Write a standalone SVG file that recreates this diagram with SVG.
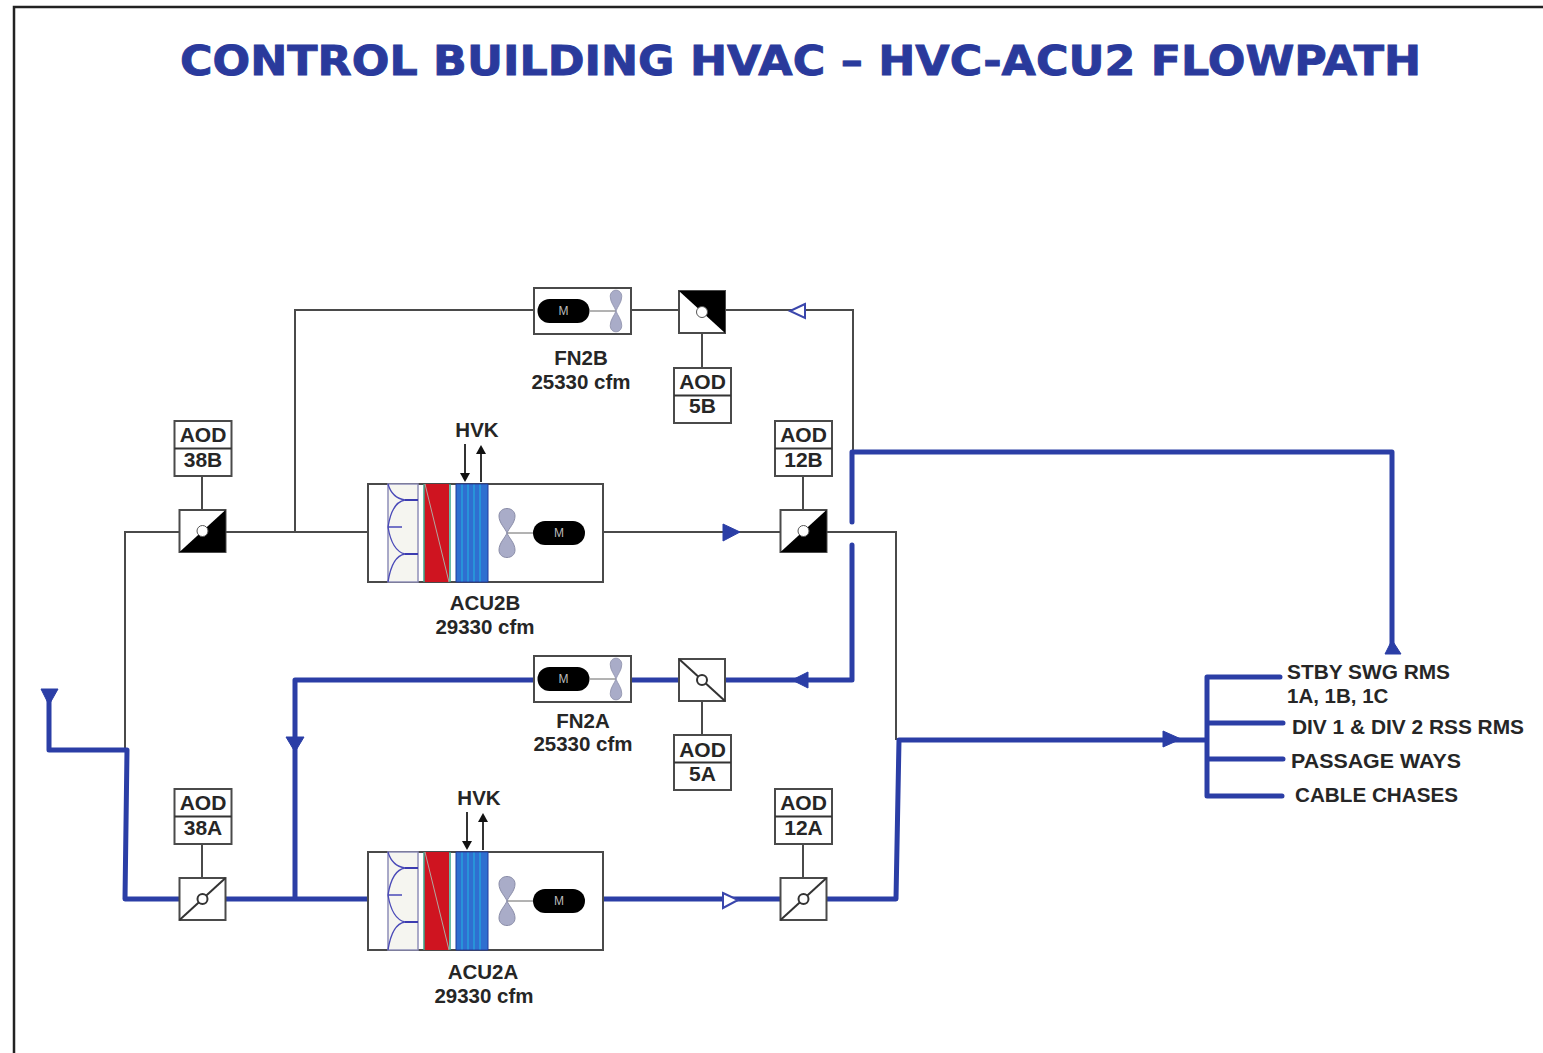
<svg xmlns="http://www.w3.org/2000/svg" width="1543" height="1053" viewBox="0 0 1543 1053">
<style>
.t{font-family:"Liberation Sans",Arial,sans-serif;font-weight:bold;font-size:20.5px;fill:#262626;text-anchor:middle}
.a{font-family:"Liberation Sans",Arial,sans-serif;font-weight:bold;font-size:21px;fill:#262626;text-anchor:middle}
.l{font-family:"Liberation Sans",Arial,sans-serif;font-weight:bold;font-size:20.500px;fill:#262626}
.title{font-family:"DejaVu Sans",Verdana,sans-serif;font-weight:bold;font-size:41px;fill:#2a3a9c;stroke:#2a3a9c;stroke-width:.9}
.g{fill:none;stroke:#4a4a4a;stroke-width:2}
.b{fill:none;stroke:#2b3ea6;stroke-width:5;stroke-linejoin:round;stroke-linecap:round}
.hf{fill:#2b3ea6;stroke:#2b3ea6;stroke-width:1}
.hh{fill:#fff;stroke:#3a46ac;stroke-width:2}
.box{fill:#fff;stroke:#4a4a4a;stroke-width:2}
.k{fill:none;stroke:#333;stroke-width:2}
.lobe{fill:#a9acc8;stroke:#8a8da8;stroke-width:1}
</style>
<defs>
<g id="aod"><rect class="box" x="0" y="0" width="57" height="55"/><path class="k" d="M0 27.5H57"/></g>
<path id="lobe" class="lobe" d="M0 0C-2 -5 -8 -10 -8 -17C-8 -27 8 -27 8 -17C8 -10 2 -5 0 0Z"/>
<g id="fan"><use href="#lobe"/><use href="#lobe" transform="scale(1 -1)"/></g>
<g id="motor"><rect x="-26" y="-12" width="52" height="24" rx="12" fill="#000"/><text x="0" y="4" font-family="Liberation Sans,sans-serif" font-size="12" fill="#bbb" text-anchor="middle">M</text></g>
<g id="vBL"><rect class="box" x="-23" y="-21" width="46" height="42"/><path class="k" d="M-23 21L23 -21"/><circle r="5" fill="#fff" stroke="#333" stroke-width="2"/></g>
<g id="vTL"><rect class="box" x="-23" y="-21" width="46" height="42"/><path class="k" d="M-23 -21L23 21"/><circle r="5" fill="#fff" stroke="#333" stroke-width="2"/></g>
<g id="vBLk"><rect class="box" x="-23" y="-21" width="46" height="42"/><path d="M-23 21L23 -21V21Z" fill="#000"/><circle r="5.500" fill="#fff" stroke="#555" stroke-width="1"/></g>
<g id="vTLk"><rect class="box" x="-23" y="-21" width="46" height="42"/><path d="M-23 -21H23V21Z" fill="#000"/><circle r="5.500" fill="#fff" stroke="#555" stroke-width="1"/></g>
<g id="acu">
<rect class="box" x="368" y="484" width="235" height="98"/>
<rect x="388" y="484" width="30" height="98" fill="#f5f5f0" stroke="#8f8fb8" stroke-width="1.5"/>
<path d="M388 484Q392 498 405 500Q392 502 388 527Q392 551 405 554Q392 556 388 582M388 527H402" fill="none" stroke="#4a4ab8" stroke-width="1.3"/>
<path d="M405 500H418M405 554H418" stroke="#3c3cb0" stroke-width="2"/>
<rect x="424" y="484" width="25" height="98" fill="#cf1420"/>
<path d="M424 484V582M450 484V582" stroke="#3aa58a" stroke-width="1.500"/>
<path d="M425 484L449 582" stroke="#b0a8a0" stroke-width="1"/>
<rect x="456" y="484" width="32" height="98" fill="#2f6fd0"/>
<path d="M462 484V582M468 484V582M474 484V582M480 484V582" stroke="#27a0dc" stroke-width="1.5"/>
<path d="M456 484H488M456 582H488M488 484V582M456 484V582" stroke="#223a9a" stroke-width="1"/>
<path d="M507 533H533" stroke="#666" stroke-width="1"/>
<use href="#fan" x="507" y="533"/>
<use href="#motor" x="559" y="533"/>
</g>
<g id="fn">
<rect class="box" x="534" y="288" width="97" height="46"/>
<path d="M590 311H616" stroke="#666" stroke-width="1"/>
<use href="#motor" x="563.500" y="311"/>
<use href="#fan" transform="translate(616 311) scale(.72 .85)"/>
</g>
</defs>
<rect width="1543" height="1053" fill="#fff"/>
<path d="M14 1053V7H1543" fill="none" stroke="#222" stroke-width="2.500"/>
<text class="title" x="180" y="75" textLength="1241" lengthAdjust="spacingAndGlyphs">CONTROL BUILDING HVAC – HVC-ACU2 FLOWPATH</text>

<g id="connectors">
<path class="g" d="M125 750V532H179M226 532H368M295 532V310H534M631 310H679M725 310H853V452M603 532H780M827 532H896V740"/>
<path class="g" d="M202 476V511M702 334V368M803 476V511M702 702V735M202 844V878M803 844V878"/>
<path class="b" d="M49 695V750H127L125 899H179M226 899H368M295 899V680H534M631 680H679M725 680H852V545M852 522V452H1392V650M604 899H780M827 899H896L899 740H1205"/>
<path class="b" d="M1280 677H1207V796H1282M1207 723H1283M1207 759H1283"/>
<path class="hf" d="M41 689H58L49 705Z"/>
<path class="hf" d="M286 737H304L295 752Z"/>
<path class="hf" d="M723 524L740 532L723 541Z"/>
<path class="hf" d="M808 672L792 680L808 688Z"/>
<path class="hf" d="M1385 654H1401L1392 640Z"/>
<path class="hf" d="M1163 731L1181 739L1163 747Z"/>
<path class="hh" d="M723 893L738 900L723 908Z"/>
<path class="hh" d="M805 304L790 311L805 318Z"/>
</g>

<g id="valve-38B"><use href="#vBLk" x="202.500" y="531"/><use href="#aod" x="174.500" y="421"/><text class="a" x="203" y="442">AOD</text><text class="a" x="203" y="467">38B</text></g>
<g id="valve-12B"><use href="#vBLk" x="803.500" y="531"/><use href="#aod" x="775" y="421"/><text class="a" x="803.500" y="442">AOD</text><text class="a" x="803.500" y="467">12B</text></g>
<g id="valve-5B"><use href="#vTLk" x="702" y="312"/><use href="#aod" x="674" y="368"/><text class="a" x="702.500" y="389">AOD</text><text class="a" x="702.500" y="413">5B</text></g>
<g id="valve-5A"><use href="#vTL" x="702" y="680"/><use href="#aod" x="674" y="735"/><text class="a" x="702.500" y="757">AOD</text><text class="a" x="702.500" y="781">5A</text></g>
<g id="valve-38A"><use href="#vBL" x="202.500" y="899"/><use href="#aod" x="174.500" y="789"/><text class="a" x="203" y="810">AOD</text><text class="a" x="203" y="835">38A</text></g>
<g id="valve-12A"><use href="#vBL" x="803.500" y="899"/><use href="#aod" x="775" y="789"/><text class="a" x="803.500" y="810">AOD</text><text class="a" x="803.500" y="835">12A</text></g>

<g id="FN2B"><use href="#fn"/><text class="t" x="581" y="365">FN2B</text><text class="t" x="581" y="389">25330 cfm</text></g>
<g id="FN2A"><use href="#fn" y="368"/><text class="t" x="583" y="728">FN2A</text><text class="t" x="583" y="751">25330 cfm</text></g>

<g id="ACU2B"><use href="#acu"/><text class="t" x="477" y="437">HVK</text><path class="k" d="M465 444V474"/><path d="M460 473H470L465 482Z" fill="#111"/><path class="k" d="M481 482V453"/><path d="M476 454H486L481 445Z" fill="#111"/><text class="t" x="485" y="610">ACU2B</text><text class="t" x="485" y="634">29330 cfm</text></g>
<g id="ACU2A"><use href="#acu" y="368"/><text class="t" x="479" y="805">HVK</text><path class="k" d="M467 812V842"/><path d="M462 841H472L467 850Z" fill="#111"/><path class="k" d="M483 850V821"/><path d="M478 822H488L483 813Z" fill="#111"/><text class="t" x="483" y="979">ACU2A</text><text class="t" x="484" y="1003">29330 cfm</text></g>

<g id="destinations">
<text class="l" x="1287" y="679" textLength="163" lengthAdjust="spacingAndGlyphs">STBY SWG RMS</text>
<text class="l" x="1287" y="703">1A, 1B, 1C</text>
<text class="l" x="1292" y="734" textLength="232" lengthAdjust="spacingAndGlyphs">DIV 1 &amp; DIV 2 RSS RMS</text>
<text class="l" x="1291" y="768" textLength="170" lengthAdjust="spacingAndGlyphs">PASSAGE WAYS</text>
<text class="l" x="1295" y="802" textLength="163" lengthAdjust="spacingAndGlyphs">CABLE CHASES</text>
</g>
</svg>
